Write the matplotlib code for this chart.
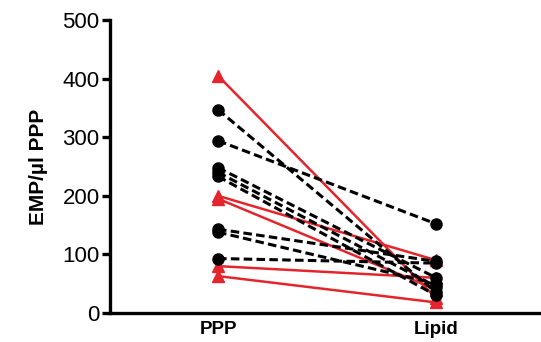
import matplotlib
matplotlib.use("Agg")
import matplotlib.pyplot as plt

categories = ["PPP", "Lipid"]
black_ppp = [347, 294, 248, 240, 233, 143, 138, 93]
black_lipid = [35, 152, 60, 45, 30, 88, 50, 85]
red_ppp = [405, 200, 195, 80, 63]
red_lipid = [25, 90, 40, 60, 18]
yticks = [0, 100, 200, 300, 400, 500]

plt.rcParams['font.family'] = ['Liberation Sans', 'DejaVu Sans']

fig = plt.figure(figsize=(5.41, 3.42), dpi=100)
ax = fig.add_axes([110/541, 1-313/342, 1-110/541, 293/342])

xs = [0, 1]
red = "#E3262D"
for a, b in zip(black_ppp, black_lipid):
    ax.plot(xs, [a, b], color="black", ls=(0, (2.8, 1.4)), lw=2.2,
            marker="o", ms=8, mfc="black", mec="black", zorder=3, clip_on=False)
for a, b in zip(red_ppp, red_lipid):
    ax.plot(xs, [a, b], color=red, ls="-", lw=1.8,
            marker="^", ms=8, mfc=red, mec=red, zorder=2, clip_on=False)

ax.set_xlim(-0.495, 1.48)
ax.set_ylim(0, 500)
ax.set_yticks(yticks)
ax.set_xticks(xs)
ax.set_xticklabels(categories, fontsize=13.5, fontweight="bold")
ax.tick_params(axis="x", length=0, pad=6)
ax.tick_params(axis="y", length=6, width=2.4, labelsize=16, pad=1.5)
for s in ["top", "right"]:
    ax.spines[s].set_visible(False)
for s in ["left", "bottom"]:
    ax.spines[s].set_linewidth(2.4)
ax.set_ylabel("EMP/µl PPP", fontsize=15, fontweight="bold", labelpad=10)

fig.savefig("out.png", dpi=100)
